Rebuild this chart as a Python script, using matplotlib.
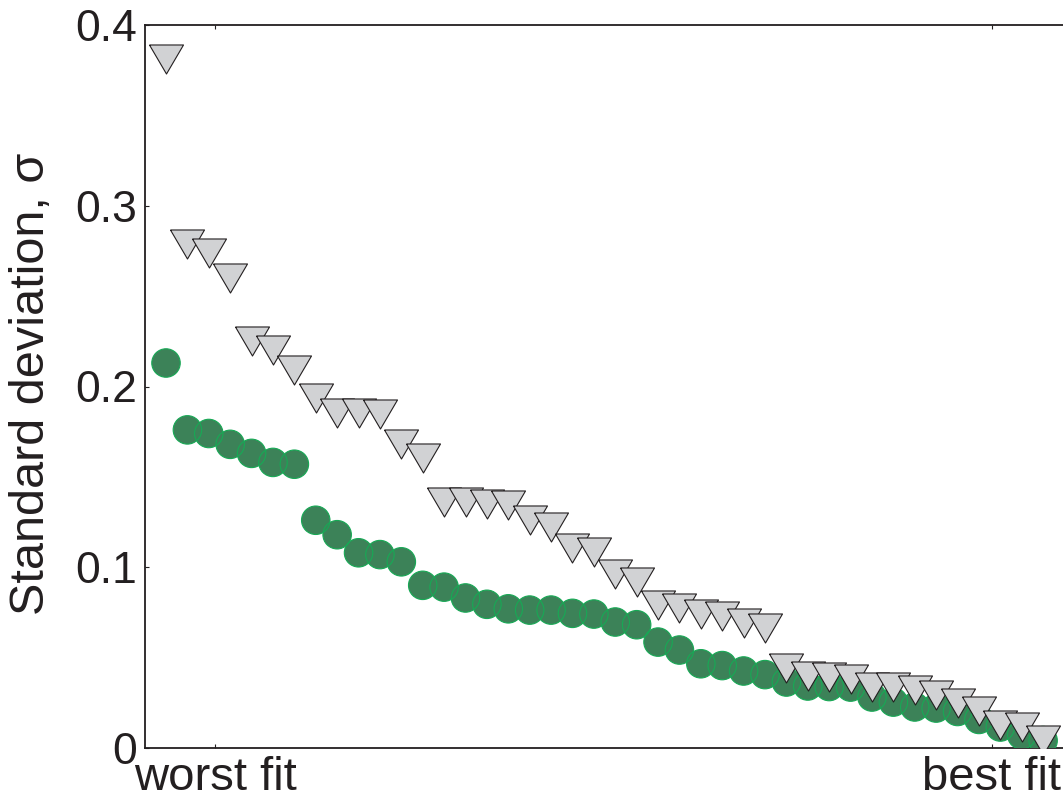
import matplotlib
matplotlib.use("Agg")
import matplotlib.pyplot as plt
import numpy as np

plt.rcParams['font.family'] = ['Liberation Sans', 'DejaVu Sans']

# Models ordered from worst fit (left) to best fit (right)
rank = list(range(1, 43))

sigma_circles = [
    0.213, 0.176, 0.174, 0.168, 0.163, 0.158, 0.157, 0.126, 0.118, 0.108,
    0.107, 0.103, 0.090, 0.089, 0.083, 0.0795, 0.077, 0.0763, 0.0763, 0.0745,
    0.0741, 0.0697, 0.0682, 0.0586, 0.0542, 0.0466, 0.0456, 0.0426, 0.0406, 0.0365,
    0.0343, 0.0340, 0.0337, 0.0282, 0.0254, 0.0227, 0.0221, 0.0202, 0.0158, 0.0116,
    0.0072, 0.0041,
]

sigma_triangles = [
    0.381, 0.2788, 0.2741, 0.2603, 0.2252, 0.2202, 0.2094, 0.1936, 0.1856, 0.1853,
    0.1848, 0.1684, 0.1604, 0.1361, 0.1361, 0.1352, 0.1343, 0.1261, 0.1225, 0.1108,
    0.1087, 0.0965, 0.0916, 0.0791, 0.0777, 0.0744, 0.0730, 0.0694, 0.0664, 0.0441,
    0.0398, 0.0394, 0.0379, 0.0339, 0.0335, 0.0321, 0.0293, 0.0251, 0.0205, 0.0127,
    0.0118, 0.0044,
]

y_ticks = [0, 0.1, 0.2, 0.3, 0.4]
y_tick_labels = ['0', '0.1', '0.2', '0.3', '0.4']
x_tick_labels = ['worst fit', 'best fit']

ink = '#231f20'
green_fill = '#3c8258'
green_edge = '#17a955'
grey_fill = '#d1d2d4'

W, H = 1063, 802
fig = plt.figure(figsize=(W / 100, H / 100), dpi=100)
ax = fig.add_axes([145 / W, (H - 748) / H, (1064.5 - 145) / W, (748 - 25) / H])

# circles: fills first, then outlines so every rim stays visible
circle_size = 20.5 ** 2
ax.scatter(rank, sigma_circles, s=circle_size, marker='o', c=green_fill,
           edgecolors='none', zorder=3)
ax.scatter(rank, sigma_circles, s=circle_size, marker='o', facecolors='none',
           edgecolors=green_edge, linewidths=0.8, zorder=4)

# wide downward triangles
tri = [(-1.0, 0.853), (1.0, 0.853), (0.0, -0.853), (-1.0, 0.853)]
ax.scatter(rank, sigma_triangles, s=24.5 ** 2, marker=tri, c=grey_fill,
           edgecolors=ink, linewidths=0.8, zorder=5)

ax.set_xlim(0.018, 43.0)
ax.set_ylim(0, 0.4)

ax.set_yticks(y_ticks)
ax.set_yticklabels(y_tick_labels)
ax.set_xticks([3.29, 39.6])
ax.set_xticklabels(x_tick_labels)

ax.tick_params(axis='both', direction='in', length=3, width=0.8, colors=ink,
               labelcolor=ink, pad=6)
ax.tick_params(axis='y', left=True, right=False, labelsize=32)
ax.tick_params(axis='x', top=True, bottom=True, pad=6, labelsize=34)

for name, sp in ax.spines.items():
    sp.set_color(ink)
    sp.set_linewidth(1.3)
ax.spines['right'].set_visible(False)

fig.text(32 / W, 1 - 384 / H, 'Standard deviation, σ', rotation=90,
         ha='center', va='center', fontsize=35, color=ink)

fig.savefig('out.png', dpi=100, facecolor='white')
